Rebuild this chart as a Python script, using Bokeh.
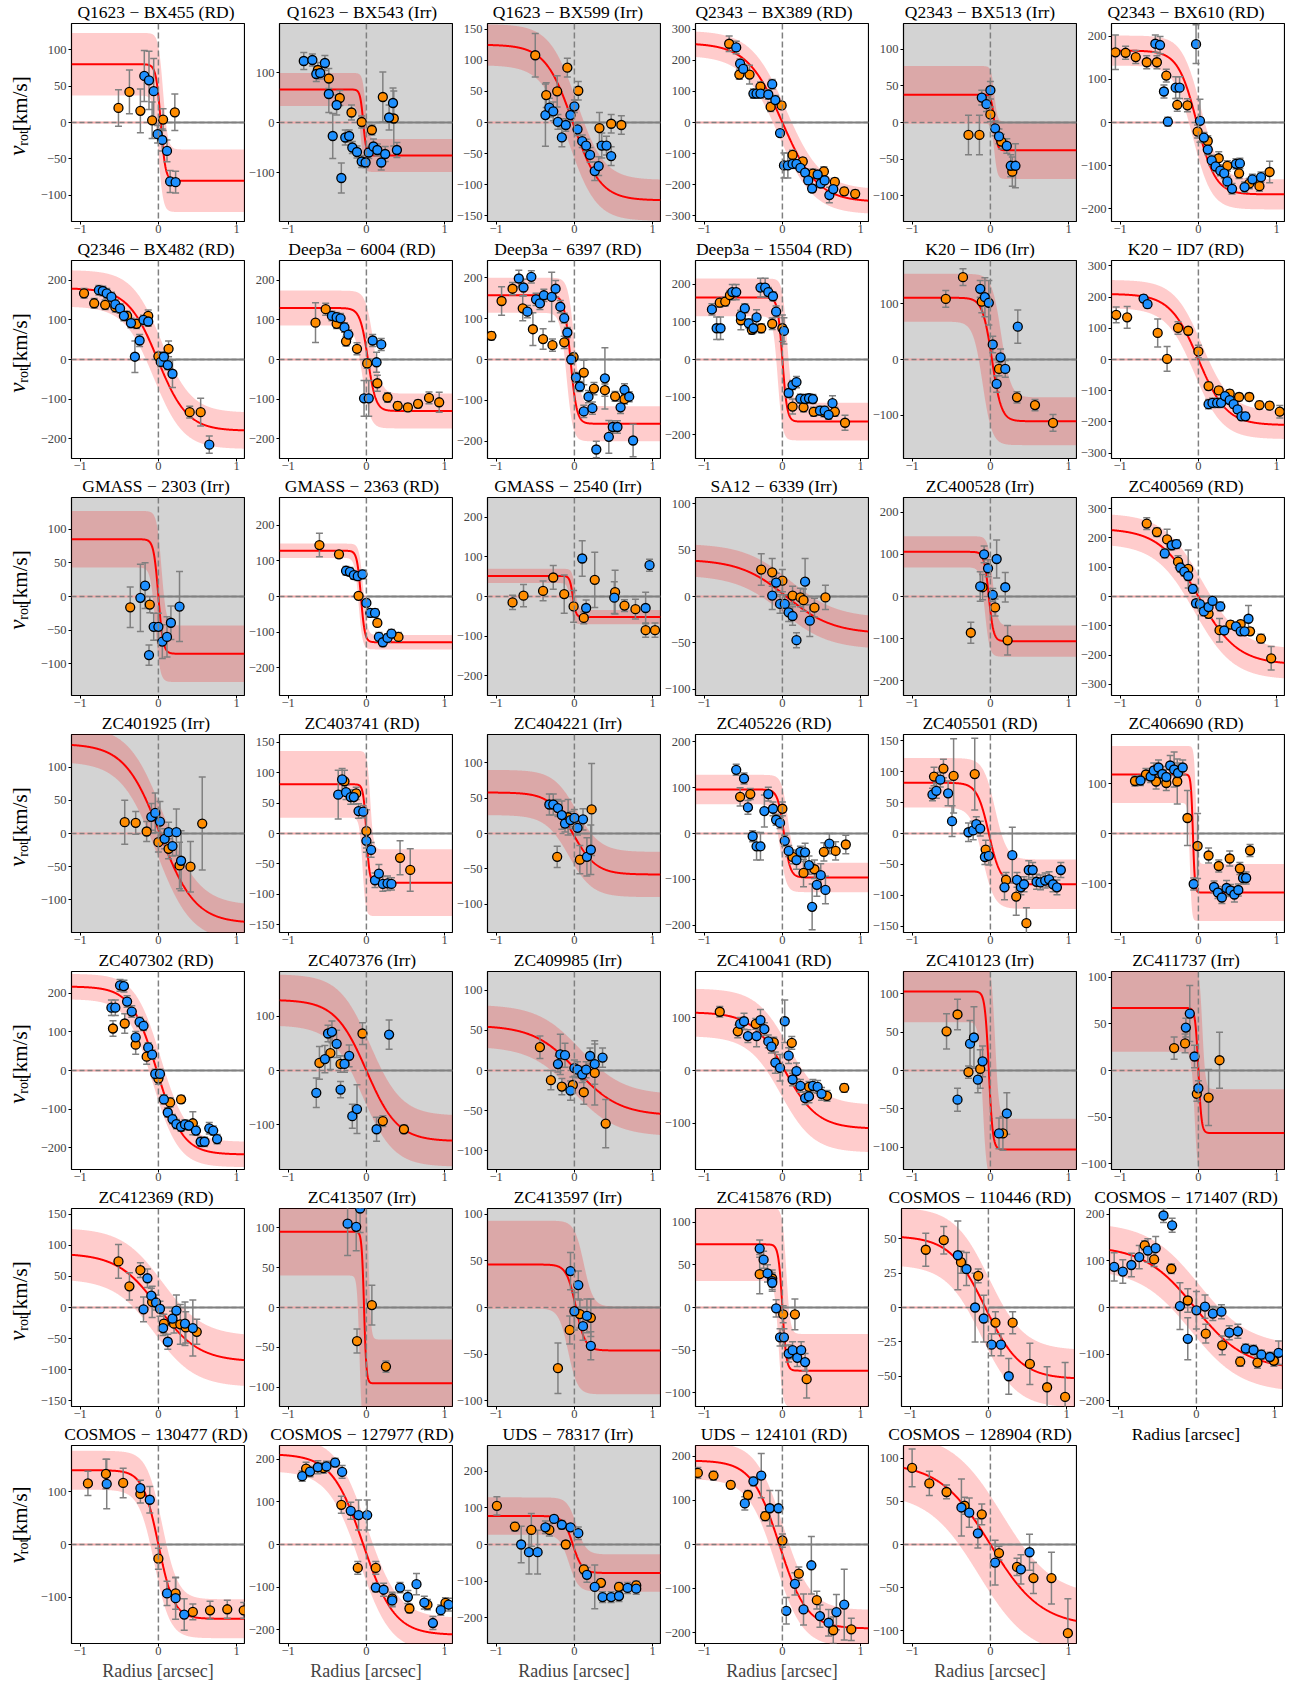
import numpy as np
from bokeh.plotting import figure
from bokeh.layouts import column, row
from bokeh.models import Range1d, FixedTicker, Span
from bokeh.core.properties import value
from bokeh.embed import file_html
from bokeh.resources import INLINE

# ---------------------------------------------------------------- data
TITLES = [
    "Q1623 − BX455 (RD)", "Q1623 − BX543 (Irr)", "Q1623 − BX599 (Irr)",
    "Q2343 − BX389 (RD)", "Q2343 − BX513 (Irr)", "Q2343 − BX610 (RD)",
    "Q2346 − BX482 (RD)", "Deep3a − 6004 (RD)", "Deep3a − 6397 (RD)",
    "Deep3a − 15504 (RD)", "K20 − ID6 (Irr)", "K20 − ID7 (RD)",
    "GMASS − 2303 (Irr)", "GMASS − 2363 (RD)", "GMASS − 2540 (Irr)",
    "SA12 − 6339 (Irr)", "ZC400528 (Irr)", "ZC400569 (RD)",
    "ZC401925 (Irr)", "ZC403741 (RD)", "ZC404221 (Irr)",
    "ZC405226 (RD)", "ZC405501 (RD)", "ZC406690 (RD)",
    "ZC407302 (RD)", "ZC407376 (Irr)", "ZC409985 (Irr)",
    "ZC410041 (RD)", "ZC410123 (Irr)", "ZC411737 (Irr)",
    "ZC412369 (RD)", "ZC413507 (Irr)", "ZC413597 (Irr)",
    "ZC415876 (RD)", "COSMOS − 110446 (RD)", "COSMOS − 171407 (RD)",
    "COSMOS − 130477 (RD)", "COSMOS − 127977 (RD)", "UDS − 78317 (Irr)",
    "UDS − 124101 (RD)", "COSMOS − 128904 (RD)",
]

# symmetric y-limit and tick step of each panel
YMAX = [136, 198, 159, 318, 135, 230, 250, 250, 242, 263, 178, 317,
        147, 277, 250, 106.5, 235, 338, 149, 163, 140, 216, 160, 198,
        257, 182, 123, 187, 129, 106, 159, 124, 106, 116, 72, 212,
        188, 232, 271, 224, 115]
YSTEP = [50, 100, 50, 100, 50, 100, 100, 100, 100, 100, 100, 100,
         50, 100, 100, 50, 100, 100, 50, 50, 50, 100, 50, 100,
         100, 100, 50, 100, 50, 50, 50, 50, 50, 50, 25, 100,
         100, 100, 100, 100, 50]

# best-fit model (plateau velocity, centre, turnover scale) and its uncertainty band
MODEL_V = [80, 66, 125, 255, 38, 167, 180, 130, 157, 165, 111, 210,
           85, 128, 52, 40, 106, 232, 135, 81, 58, 96, 82, 118,
           218, 130, 56, 110, 103, 67, 87, 95, 46, 74, 52, 132,
           141, 212, 78, 190, 95]
MODEL_X0 = [0.03, -0.04, -0.02, 0.0, 0.05, -0.02, -0.01, 0.02, -0.05, 0.0, 0.02, 0.0,
            0.0, -0.07, -0.02, 0.05, -0.02, 0.0, 0.02, 0.0, -0.02, 0.02, -0.02, -0.07,
            -0.02, 0.0, 0.03, 0.03, -0.02, 0.0, 0.0, -0.03, 0.02, 0.0, -0.04, -0.02,
            0.0, -0.04, -0.02, -0.04, 0.0]
MODEL_RT = [0.06, 0.04, 0.35, 0.45, 0.04, 0.24, 0.38, 0.10, 0.08, 0.06, 0.12, 0.36,
            0.06, 0.05, 0.04, 0.60, 0.06, 0.50, 0.45, 0.04, 0.30, 0.08, 0.15, 0.025,
            0.33, 0.40, 0.55, 0.42, 0.05, 0.04, 0.52, 0.03, 0.12, 0.05, 0.45, 0.65,
            0.20, 0.40, 0.12, 0.35, 0.65]
BAND_DV = [43, 33, 33, 40, 39, 35, 46, 44, 43, 50, 43, 45,
           42, 20, 18, 17, 37, 52, 27, 55, 32, 32, 40, 57,
           33, 47, 26, 45, 40, 47, 41, 55, 47, 43, 21, 50,
           37, 40, 51, 42, 35]
BAND_DX = [0.03, 0.03, 0.05, 0.05, 0.0, 0.05, 0.05, 0.07, 0.05, 0.06, 0.12, 0.05,
           0.04, 0.03, 0.03, 0.05, 0.05, 0.05, 0.05, 0.05, 0.05, 0.05, 0.08, 0.04,
           0.05, 0.05, 0.05, 0.05, 0.08, 0.05, 0.05, 0.06, 0.10, 0.05, 0.05, 0.05,
           0.05, 0.05, 0.05, 0.05, 0.15]

# measurements (radius, velocity, error) — orange and blue sets per panel
ORANGE = [
    [(-0.51,20,25),(-0.37,42,30),(-0.23,16,30),(-0.08,3,25),(0.06,4,15),(0.21,14,25)],
    [(-0.62,105,15),(-0.48,88,20),(-0.34,49,15),(-0.19,20,15),(-0.06,1,12),(0.07,-15,10),(0.21,51,50),(0.35,8,55)],
    [(-0.50,108,35),(-0.36,44,20),(-0.22,50,25),(-0.09,88,15),(0.05,51,15),(0.32,-9,25),(0.47,-2,15),(0.60,-4,15)],
    [(-0.68,253,25),(-0.55,154,15),(-0.42,154,30),(-0.28,115,15),(-0.15,50,15),(-0.01,55,12),(0.13,-104,15),(0.26,-125,12),(0.39,-164,15),(0.53,-157,15),(0.67,-191,12),(0.79,-221,12),(0.93,-229,12)],
    [(-0.28,-17,27),(-0.14,-17,27),(0.0,11,10),(0.14,-26,10),(0.28,-67,20)],
    [(-1.06,163,40),(-0.93,162,15),(-0.80,152,15),(-0.66,140,15),(-0.53,140,15),(-0.41,109,15),(-0.27,41,15),(-0.14,40,15),(-0.01,-21,15),(0.12,-43,12),(0.26,-83,15),(0.37,-101,12),(0.52,-118,12),(0.65,-142,12),(0.78,-148,12),(0.91,-115,25)],
    [(-0.95,167,12),(-0.82,142,12),(-0.68,138,12),(-0.55,132,12),(-0.40,110,12),(-0.28,90,12),(-0.13,110,15),(0.0,8,10),(0.13,27,20),(0.40,-133,15),(0.54,-133,35)],
    [(-0.65,93,50),(-0.52,127,15),(-0.38,90,12),(-0.26,46,12),(-0.12,27,15),(0.01,-10,12),(0.14,-60,20),(0.27,-96,12),(0.40,-117,10),(0.53,-121,10),(0.66,-112,10),(0.80,-97,15),(0.93,-108,25)],
    [(-1.06,58,10),(-0.93,143,35),(-0.79,173,15),(-0.66,125,30),(-0.53,74,40),(-0.40,50,25),(-0.28,35,15),(-0.13,42,15),(-0.01,6,10),(0.12,-32,30),(0.25,-71,15),(0.39,-75,15),(0.52,-90,12),(0.64,-97,12)],
    [(-0.80,151,12),(-0.73,154,12),(-0.67,171,12),(-0.53,104,25),(-0.39,79,12),(-0.27,83,12),(-0.13,95,15),(0.0,83,35),(0.13,-125,20),(0.27,-127,12),(0.40,-139,12),(0.53,-140,12),(0.67,-139,12),(0.80,-168,20)],
    [(-0.57,109,15),(-0.35,148,15),(-0.11,104,20),(0.11,-17,12),(0.34,-68,10),(0.57,-82,10),(0.80,-114,15)],
    [(-1.05,143,25),(-0.91,135,35),(-0.52,85,45),(-0.40,2,40),(-0.26,101,20),(-0.13,92,12),(0.0,26,20),(0.13,-85,12),(0.26,-99,12),(0.40,-109,12),(0.52,-120,12),(0.65,-120,12),(0.78,-146,12),(0.91,-148,12),(1.04,-167,20)],
    [(-0.36,-16,30),(-0.11,-12,12)],
    [(-0.60,144,33),(-0.35,118,10),(-0.10,2,8),(0.14,-74,10),(0.41,-113,12)],
    [(-0.79,-15,18),(-0.65,2,28),(-0.40,14,25),(-0.27,48,30),(-0.13,6,48),(-0.01,-25,40),(0.12,-54,15),(0.26,42,70),(0.52,11,55),(0.64,-23,15),(0.78,-32,25),(0.91,-85,18),(1.03,-85,18)],
    [(-0.27,29,17),(-0.13,26,15),(0.0,17,12),(0.13,1,10),(0.23,-1,10),(0.27,-4,12),(0.41,-12,10),(0.55,-1,13)],
    [(-0.25,-86,25),(-0.10,22,30),(0.06,-26,20),(0.22,-104,35)],
    [(-0.66,249,20),(-0.53,220,15),(-0.40,195,35),(-0.26,119,20),(-0.13,94,65),(0.13,-59,15),(0.27,-115,40),(0.41,-96,12),(0.54,-94,12),(0.66,-119,12),(0.80,-144,15),(0.93,-211,40)],
    [(-0.43,17,33),(-0.29,16,17),(-0.15,3,15),(0.0,-13,15),(0.13,-23,15),(0.27,-48,35),(0.41,-50,38),(0.56,15,70)],
    [(-0.28,86,18),(-0.13,66,10),(0.0,4,35),(0.43,-40,28),(0.56,-60,35)],
    [(-0.22,-33,15),(-0.08,23,25),(0.07,-37,20),(0.22,34,65)],
    [(-0.54,80,20),(-0.41,86,12),(0.0,54,15),(0.13,-51,15),(0.27,-86,30),(0.41,-78,20),(0.53,-40,20),(0.68,-38,20),(0.81,-24,20)],
    [(-0.72,92,15),(-0.60,105,15),(-0.47,93,60),(-0.20,96,58),(-0.06,-26,15),(0.20,-75,12),(0.33,-102,30),(0.46,-145,25)],
    [(-0.81,105,10),(-0.67,118,12),(-0.54,104,15),(-0.41,101,15),(-0.27,104,45),(-0.14,31,55),(-0.01,-25,65),(0.13,-44,15),(0.26,-65,12),(0.40,-50,15),(0.53,-70,12),(0.66,-34,12)],
    [(-0.58,109,20),(-0.43,122,25),(-0.29,67,25),(-0.15,36,20),(0.0,-21,15),(0.15,-83,12),(0.29,-75,10),(0.44,-137,30)],
    [(-0.60,14,30),(-0.46,32,30),(-0.33,12,15),(-0.05,68,20),(0.21,-93,10),(0.48,-108,8)],
    [(-0.44,29,14),(-0.30,-12,12),(-0.16,-20,10),(-0.02,-18,10),(0.12,-27,15),(0.26,-3,40),(0.40,-66,30)],
    [(-0.80,111,10),(-0.57,74,12),(-0.34,88,10),(-0.11,53,10),(0.12,52,12),(0.34,-31,10),(0.57,-48,10),(0.79,-33,8)],
    [(-0.56,51,23),(-0.42,73,20),(-0.28,-2,8),(-0.13,2,25),(0.16,-82,22)],
    [(-0.31,24,12),(-0.17,29,10),(-0.02,-25,8),(0.13,-29,30),(0.27,11,30)],
    [(-0.51,74,27),(-0.37,34,22),(-0.23,60,12),(-0.08,9,25),(0.07,-26,15),(0.20,-26,15),(0.28,-27,32),(0.35,-32,25),(0.49,-39,20)],
    [(-0.12,-42,15),(0.07,3,25),(0.25,-74,7)],
    [(-0.21,-65,27),(-0.06,-24,15),(0.07,-7,15),(0.21,-11,20)],
    [(-0.29,39,23),(-0.13,34,10),(0.01,-8,10),(0.16,-8,18),(0.31,-84,22)],
    [(-0.80,42,12),(-0.57,49,10),(-0.35,33,8),(-0.13,23,5),(0.09,-11,8),(0.31,-11,8),(0.53,-41,15),(0.75,-58,15),(0.98,-65,25)],
    [(-0.66,133,10),(-0.54,103,15),(-0.32,83,10),(-0.11,15,25),(0.12,-56,20),(0.33,-81,20),(0.56,-116,10),(0.78,-118,12),(0.99,-114,12)],
    [(-0.90,116,23),(-0.67,134,28),(-0.45,117,28),(-0.23,96,17),(0.0,-27,20),(0.22,-93,30),(0.44,-128,15),(0.66,-125,17),(0.88,-123,17),(1.09,-125,15)],
    [(-0.77,178,15),(-0.55,179,12),(-0.32,93,20),(-0.11,-55,15),(0.12,-55,15),(0.33,-127,15),(0.55,-150,10),(0.78,-141,12),(1.01,-137,12)],
    [(-0.99,106,25),(-0.76,49,12),(-0.55,40,45),(-0.32,40,17),(-0.11,0,10),(0.12,-68,12),(0.34,-105,10),(0.57,-116,12),(0.79,-112,12)],
    [(-1.08,162,12),(-0.88,156,10),(-0.66,135,8),(-0.44,112,10),(-0.22,64,10),(0.0,9,15),(0.21,-66,15),(0.44,-126,20),(0.65,-194,30),(0.88,-192,25)],
    [(-1.0,89,22),(-0.78,71,14),(-0.56,61,8),(-0.33,45,10),(-0.11,35,12),(0.11,-10,8),(0.34,-26,10),(0.55,-39,18),(0.78,-39,30),(0.99,-103,40)],
]
BLUE = [
    [(-0.18,64,35),(-0.12,58,40),(-0.06,43,45),(-0.01,-16,12),(0.05,-24,15),(0.11,-39,15),(0.15,-81,15),(0.22,-82,15)],
    [(-0.80,123,17),(-0.69,125,12),(-0.64,97,15),(-0.59,99,12),(-0.53,119,15),(-0.48,57,37),(-0.43,-27,45),(-0.38,35,20),(-0.32,-111,30),(-0.27,-30,15),(-0.22,-27,12),(-0.18,-50,12),(-0.12,-59,12),(-0.06,-78,12),(-0.01,-80,10),(0.03,-60,12),(0.09,-48,15),(0.14,-55,12),(0.19,-80,15),(0.24,-63,15),(0.29,10,25),(0.34,39,30),(0.39,-55,15)],
    [(-0.37,12,50),(-0.32,24,15),(-0.27,18,15),(-0.21,1,12),(-0.16,-24,15),(-0.11,-4,10),(-0.05,12,10),(0.0,26,10),(0.04,-11,10),(0.10,-30,10),(0.15,-37,10),(0.20,-52,12),(0.26,-78,15),(0.31,-70,15),(0.35,-37,20),(0.41,-37,15),(0.47,-54,15)],
    [(-0.59,241,20),(-0.54,189,15),(-0.50,172,15),(-0.37,93,15),(-0.33,93,15),(-0.28,93,15),(-0.18,90,15),(-0.13,123,15),(-0.09,72,15),(-0.03,-34,10),(0.02,-138,40),(0.07,-138,40),(0.13,-133,15),(0.18,-133,12),(0.23,-146,12),(0.29,-161,12),(0.33,-186,12),(0.38,-212,12),(0.45,-167,12),(0.49,-196,12),(0.54,-186,12),(0.60,-233,25),(0.65,-214,12)],
    [(-0.11,34,10),(-0.05,25,10),(0.0,44,12),(0.06,-8,10),(0.11,-19,10),(0.21,-32,10),(0.26,-59,15),(0.32,-59,30)],
    [(-0.55,183,20),(-0.49,180,20),(-0.44,72,15),(-0.39,2,10),(-0.29,81,25),(-0.24,81,25),(-0.03,182,45),(0.02,4,50),(0.07,-35,12),(0.12,-63,12),(0.17,-88,12),(0.22,-102,12),(0.28,-112,12),(0.33,-118,12),(0.37,-137,12),(0.43,-154,12),(0.48,-96,12),(0.53,-95,12),(0.59,-150,12),(0.69,-132,12),(0.80,-127,12)],
    [(-0.76,175,12),(-0.71,173,12),(-0.66,167,12),(-0.60,158,12),(-0.55,139,12),(-0.49,129,12),(-0.44,110,12),(-0.35,92,12),(-0.30,7,40),(-0.24,48,15),(-0.19,100,12),(-0.13,96,12),(0.03,-6,12),(0.07,7,12),(0.12,-14,12),(0.18,-36,35),(0.65,-215,22)],
    [(-0.44,110,12),(-0.38,107,12),(-0.33,104,12),(-0.28,81,12),(-0.23,63,12),(-0.03,-98,45),(0.03,-98,45),(0.08,48,15),(0.13,-7,25),(0.19,38,15)],
    [(-0.71,198,20),(-0.65,176,20),(-0.60,117,15),(-0.55,202,15),(-0.49,147,15),(-0.44,137,15),(-0.39,157,15),(-0.29,153,60),(-0.24,173,20),(-0.18,129,15),(-0.13,101,12),(-0.09,66,12),(-0.04,0,10),(0.02,-44,12),(0.07,-66,12),(0.12,-127,15),(0.18,-91,15),(0.23,-119,15),(0.28,-220,20),(0.39,-46,75),(0.44,-189,40),(0.49,-165,15),(0.55,-165,15),(0.59,-117,15),(0.64,-74,15),(0.70,-91,12),(0.75,-198,40)],
    [(-0.90,133,15),(-0.84,83,30),(-0.79,83,30),(-0.64,179,20),(-0.59,179,20),(-0.53,116,15),(-0.48,136,12),(-0.43,96,12),(-0.37,83,12),(-0.33,112,20),(-0.28,191,25),(-0.22,191,25),(-0.18,179,12),(-0.12,168,12),(-0.08,127,15),(0.02,76,35),(0.08,-89,12),(0.13,-68,12),(0.18,-60,15),(0.23,-104,12),(0.29,-105,12),(0.34,-103,12),(0.39,-105,12),(0.48,-136,12),(0.54,-136,12),(0.59,-147,12),(0.64,-116,20)],
    [(-0.13,127,15),(-0.07,112,35),(-0.02,102,40),(0.03,27,15),(0.08,-44,15),(0.13,4,15),(0.19,-17,15),(0.35,59,30)],
    [(-0.70,195,12),(-0.65,177,12),(0.13,-143,15),(0.18,-139,15),(0.24,-139,15),(0.29,-139,15),(0.34,-117,12),(0.40,-130,12),(0.45,-143,12),(0.50,-160,12),(0.55,-182,12),(0.60,-182,12)],
    [(-0.23,-2,50),(-0.17,16,34),(-0.12,-87,15),(-0.06,-45,20),(0.0,-45,20),(0.05,-67,25),(0.11,-60,30),(0.16,-39,25),(0.27,-15,52)],
    [(-0.26,72,12),(-0.21,69,12),(-0.16,60,12),(-0.11,57,12),(-0.05,62,12),(0.0,-18,10),(0.05,-46,12),(0.11,-46,12),(0.16,-113,12),(0.21,-128,12),(0.27,-116,12),(0.32,-104,12)],
    [(0.10,96,45),(0.15,-29,20),(0.51,-3,40),(0.91,-29,40),(0.96,79,15)],
    [(-0.13,1,15),(-0.08,15,10),(-0.03,-8,10),(0.03,-8,10),(0.08,-17,10),(0.13,-21,10),(0.18,-47,8),(0.29,16,25),(0.35,-26,17)],
    [(-0.13,24,35),(-0.08,100,20),(-0.03,67,20),(0.03,4,15),(0.08,89,45),(0.19,22,35)],
    [(-0.43,147,15),(-0.34,175,15),(-0.28,179,15),(-0.23,99,15),(-0.18,85,15),(-0.13,70,15),(-0.07,26,15),(-0.03,-23,12),(0.02,-26,12),(0.07,-51,15),(0.13,-36,15),(0.18,-15,15),(0.28,-34,15),(0.33,-116,12),(0.48,-102,12),(0.54,-119,12),(0.59,-119,12),(0.64,-76,45)],
    [(-0.09,25,20),(-0.04,31,30),(0.02,18,30),(0.08,-8,15),(0.13,2,15),(0.18,-19,15),(0.23,2,35),(0.29,-41,45)],
    [(-0.36,64,40),(-0.31,89,18),(-0.26,68,12),(-0.20,60,12),(-0.16,60,12),(-0.10,37,12),(-0.04,36,10),(0.0,-12,12),(0.06,-27,12),(0.11,-77,12),(0.16,-66,15),(0.21,-83,12),(0.27,-82,12),(0.32,-83,10)],
    [(-0.32,41,15),(-0.27,41,15),(-0.21,36,12),(-0.16,26,20),(-0.12,14,12),(-0.05,19,12),(0.0,22,12),(0.04,8,10),(0.11,20,15),(0.16,-33,27),(0.21,-23,35)],
    [(-0.59,139,12),(-0.49,120,12),(-0.44,57,15),(-0.38,-6,12),(-0.33,-28,30),(-0.28,-28,30),(-0.23,49,35),(-0.18,86,15),(-0.12,54,15),(-0.08,30,12),(-0.03,23,12),(0.03,-16,12),(0.08,-38,12),(0.18,-58,20),(0.23,-40,12),(0.29,-41,20),(0.34,-69,20),(0.38,-160,50),(0.44,-112,25),(0.49,-91,25),(0.55,-123,30),(0.60,-22,22)],
    [(-0.74,63,10),(-0.69,69,12),(-0.64,87,12),(-0.54,65,20),(-0.49,20,25),(-0.28,2,15),(-0.22,5,15),(-0.18,15,12),(-0.13,8,12),(-0.07,-38,12),(-0.02,-36,15),(0.18,-87,20),(0.28,-35,45),(0.34,-75,12),(0.39,-87,12),(0.43,-82,12),(0.49,-59,15),(0.54,-59,12),(0.59,-78,12),(0.64,-79,12),(0.70,-76,12),(0.75,-74,12),(0.80,-82,12),(0.85,-87,12),(0.90,-59,12)],
    [(-0.74,106,10),(-0.61,114,12),(-0.57,126,15),(-0.51,132,15),(-0.46,119,15),(-0.41,113,15),(-0.36,136,20),(-0.31,128,35),(-0.26,121,20),(-0.20,132,15),(-0.06,-101,12),(0.20,-107,12),(0.25,-118,12),(0.30,-128,12),(0.36,-109,15),(0.41,-114,12),(0.46,-122,15),(0.51,-113,12),(0.57,-89,12),(0.61,-89,12)],
    [(-0.60,163,20),(-0.55,163,20),(-0.49,221,15),(-0.44,219,15),(-0.40,179,15),(-0.34,153,15),(-0.29,86,15),(-0.24,126,12),(-0.19,116,12),(-0.13,60,12),(-0.08,41,12),(-0.04,-9,12),(0.02,-9,12),(0.07,-75,12),(0.12,-109,12),(0.18,-126,12),(0.23,-139,12),(0.29,-146,12),(0.34,-140,12),(0.39,-143,12),(0.48,-156,12),(0.54,-185,12),(0.59,-185,12),(0.65,-150,15),(0.70,-156,12),(0.75,-178,12)],
    [(-0.64,-41,27),(-0.53,21,25),(-0.49,68,15),(-0.44,71,20),(-0.38,49,25),(-0.33,-35,15),(-0.28,12,15),(-0.22,27,20),(-0.18,-84,22),(-0.12,-71,45),(0.13,-108,22),(0.29,66,27)],
    [(-0.21,8,10),(-0.18,20,25),(-0.12,19,15),(-0.05,-25,12),(0.0,3,10),(0.04,1,10),(0.10,-5,10),(0.15,1,10),(0.20,18,10),(0.26,8,25),(0.36,16,12)],
    [(-0.54,88,12),(-0.49,93,15),(-0.44,65,12),(-0.33,65,20),(-0.28,95,20),(-0.23,78,12),(-0.18,55,12),(-0.14,45,12),(-0.09,15,20),(-0.03,5,25),(0.03,93,40),(0.08,28,15),(0.13,-17,12),(0.18,-1,15),(0.23,-29,12),(0.29,-52,12),(0.34,-49,12),(0.39,-29,12),(0.45,-31,12),(0.50,-44,12)],
    [(-0.42,-38,15),(-0.26,35,30),(-0.21,43,40),(-0.16,-12,17),(-0.10,12,20),(0.11,-82,20),(0.21,-56,27)],
    [(-0.16,46,10),(-0.11,61,30),(-0.05,15,12),(0.0,-19,8)],
    [(-0.19,-3,20),(-0.14,47,15),(-0.09,19,12),(-0.03,8,12),(0.02,-2,12),(0.06,-33,12),(0.12,-55,12),(0.18,-18,12),(0.23,-5,25),(0.34,-26,35),(0.44,-33,45)],
    [(-0.24,105,40),(-0.13,101,30),(-0.08,124,30)],
    [(-0.05,39,20),(0.0,-4,20),(0.05,24,15),(0.11,-20,15),(0.16,-9,18),(0.21,-41,15)],
    [(-0.29,69,10),(-0.24,56,10),(-0.19,40,10),(-0.13,31,10),(-0.13,29,10),(-0.08,-1,10),(-0.03,-35,10),(0.02,-35,10),(0.08,-54,10),(0.13,-50,10),(0.19,-59,10),(0.24,-50,10),(0.29,-64,10)],
    [(-0.39,38,25),(-0.28,28,12),(-0.17,0,25),(-0.06,-8,17),(0.04,-27,8),(0.16,-27,8),(0.26,-50,13)],
    [(-1.05,87,30),(-0.94,77,25),(-0.83,91,25),(-0.73,108,25),(-0.62,122,25),(-0.52,127,25),(-0.42,197,15),(-0.31,176,15),(-0.21,3,50),(-0.11,-67,45),(0.0,-6,40),(0.11,2,25),(0.21,-13,15),(0.32,-9,15),(0.42,-54,15),(0.53,-51,15),(0.63,-88,10),(0.73,-91,10),(0.83,-101,10),(0.94,-106,10),(1.05,-97,25)],
    [(-0.66,115,47),(-0.23,107,15),(-0.11,85,25),(0.11,-93,23),(0.22,-102,40),(0.33,-133,30)],
    [(-0.82,160,12),(-0.72,171,12),(-0.62,181,15),(-0.51,183,12),(-0.40,192,10),(-0.31,170,15),(-0.20,79,20),(-0.10,69,35),(0.01,69,35),(0.12,-101,10),(0.22,-106,15),(0.33,-131,15),(0.43,-101,12),(0.53,-123,15),(0.64,-93,25),(0.74,-136,15),(0.85,-184,15),(0.95,-154,12),(1.05,-141,15)],
    [(-0.68,0,50),(-0.58,-21,60),(-0.47,-21,60),(-0.37,47,17),(-0.26,70,10),(-0.16,54,12),(-0.05,47,10),(0.05,31,17),(0.16,-83,20),(0.26,-116,60),(0.36,-144,15),(0.47,-144,15),(0.57,-141,15),(0.68,-119,15),(0.79,-121,15)],
    [(-0.48,93,15),(-0.37,143,10),(-0.27,156,50),(-0.16,82,40),(-0.05,82,40),(0.05,-150,30),(0.16,-89,25),(0.27,-147,35),(0.37,-47,65),(0.48,-162,25),(0.59,-177,30),(0.69,-153,40),(0.79,-136,80)],
    [(-0.37,43,33),(-0.27,37,17),(-0.16,13,17),(0.06,-21,26),(0.39,-29,17),(0.50,-9,21)],
]

XTICKS = [-1, 0, 1]
XLABEL = "Radius [arcsec]"

# ---------------------------------------------------------------- style / layout
SERIF = "Liberation Serif"
ORANGE_C, BLUE_C = "#ff8c00", "#1e90ff"
IRR_BG = "#d3d3d3"
PAGE_W = 1302
FRAME_W, FRAME_H = 173, 198
LABEL_W = 37
BL, BR, BT = 32, 1, 2
BB, BB_LAST = 17, 44
TITLE_H0, TITLE_H = 21, 20
TITLE_MID = 10
PITCH = BL + FRAME_W + BR
XLIM = (-1.11, 1.1)
GRID = np.linspace(XLIM[0], XLIM[1], 500)


def fmt(v):
    v = int(v)
    return ("−" + str(abs(v))) if v < 0 else str(v)


def style_axes(p):
    p.xgrid.grid_line_color = None
    p.ygrid.grid_line_color = None
    for ax in (p.xaxis[0], p.yaxis[0]):
        ax.major_label_text_font = SERIF
        ax.major_label_text_font_size = "12.5px"
        ax.major_tick_in = 0
        ax.major_tick_out = 3
        ax.major_tick_line_color = "black"
        ax.minor_tick_line_color = None
        ax.axis_line_color = None
    p.xaxis[0].major_label_standoff = 0
    p.yaxis[0].major_label_standoff = 2


def draw_errors(p, pts):
    if not pts:
        return None
    xs = [a for a, b, e in pts]
    ys = [b for a, b, e in pts]
    es = [e for a, b, e in pts]
    lo = [b - e for b, e in zip(ys, es)]
    hi = [b + e for b, e in zip(ys, es)]
    p.segment(x0=xs, y0=lo, x1=xs, y1=hi, line_color="gray", line_width=1.5)
    p.scatter(xs + xs, lo + hi, marker="dash", size=7, line_color="gray", line_width=1.5)
    return xs, ys


def panel(i, last):
    ym = YMAX[i]
    st = YSTEP[i]
    p = figure(frame_width=FRAME_W, frame_height=FRAME_H,
               x_range=Range1d(*XLIM), y_range=Range1d(-ym, ym),
               output_backend="svg", toolbar_location=None,
               min_border_left=BL, min_border_right=BR, min_border_top=BT,
               min_border_bottom=BB_LAST if last else BB)
    p.background_fill_color = IRR_BG if "(Irr)" in TITLES[i] else "white"
    p.border_fill_color = "white"
    p.outline_line_color = "black"
    p.outline_line_width = 1.2
    style_axes(p)
    n = int(ym // st)
    yt = [k * st for k in range(-n, n + 1)]
    p.yaxis[0].ticker = FixedTicker(ticks=yt)
    p.yaxis[0].major_label_overrides = {t: fmt(t) for t in yt}
    p.xaxis[0].ticker = FixedTicker(ticks=XTICKS)
    p.xaxis[0].major_label_overrides = {t: fmt(t) for t in XTICKS}
    if last:
        p.xaxis[0].axis_label = XLABEL
        p.xaxis[0].axis_label_text_font = SERIF
        p.xaxis[0].axis_label_text_font_size = "18px"
        p.xaxis[0].axis_label_text_font_style = "normal"
        p.xaxis[0].axis_label_standoff = 3

    V, x0, rt, dv, dx = MODEL_V[i], MODEL_X0[i], MODEL_RT[i], BAND_DV[i], BAND_DX[i]
    model = -V * np.tanh((GRID - x0) / rt)
    upper = -V * np.tanh((GRID - x0 - dx) / rt) + dv
    lower = -V * np.tanh((GRID - x0 + dx) / rt) - dv
    p.varea(x=GRID, y1=lower, y2=upper, fill_color="red", fill_alpha=0.2)

    # zero lines
    p.segment(x0=[XLIM[0]], y0=[0], x1=[0], y1=[0], line_color="#f2a8a8", line_width=2)
    p.segment(x0=[0], y0=[0], x1=[XLIM[1]], y1=[0], line_color="gray", line_width=2)
    p.segment(x0=[XLIM[0]], y0=[0], x1=[XLIM[1]], y1=[0], line_color="gray",
              line_width=1.6, line_dash="5 3")
    p.add_layout(Span(location=0, dimension="height", line_color="gray",
                      line_width=1.5, line_dash="6 3"))

    p.line(GRID, model, line_color="red", line_width=2)

    o = draw_errors(p, ORANGE[i])
    b = draw_errors(p, BLUE[i])
    if o:
        p.scatter(o[0], o[1], marker="circle", size=9, fill_color=ORANGE_C,
                  line_color="black", line_width=1.3)
    if b:
        p.scatter(b[0], b[1], marker="circle", size=9, fill_color=BLUE_C,
                  line_color="black", line_width=1.3)
    return p


def blank(width, height):
    f = figure(width=width, height=height, x_range=Range1d(0, width),
               y_range=Range1d(0, height), output_backend="svg",
               toolbar_location=None, min_border=0,
               x_axis_type=None, y_axis_type=None)
    f.outline_line_color = None
    f.background_fill_color = "white"
    f.border_fill_color = "white"
    return f


def title_fig(idxs, h, radius_col=None):
    f = blank(PAGE_W, h)
    xs = [LABEL_W + c * PITCH + BL + FRAME_W / 2 for c in range(len(idxs))]
    f.text(x=xs, y=[TITLE_MID] * len(xs), text=[TITLES[i] for i in idxs],
           text_font=value(SERIF), text_font_size="17.5px",
           text_align="center", text_baseline="middle", text_color="black")
    if radius_col is not None:
        f.text(x=[LABEL_W + radius_col * PITCH + BL + FRAME_W / 2], y=[TITLE_MID],
               text=[XLABEL], text_font=value(SERIF), text_font_size="17.5px",
               text_align="center", text_baseline="middle", text_color="black")
    return f


def ylabel_fig(bb):
    h = BT + FRAME_H + bb
    f = blank(LABEL_W, h)
    cy = bb + FRAME_H / 2
    a = np.pi / 2
    f.text(x=[17], y=[cy - 44], text=["v"], angle=a, text_font=value(SERIF),
           text_font_style="italic", text_font_size="23px",
           text_align="left", text_baseline="middle")
    f.text(x=[23], y=[cy - 33], text=["rot"], angle=a, text_font=value(SERIF),
           text_font_size="14px", text_align="left", text_baseline="middle")
    f.text(x=[19], y=[cy - 17], text=["[km/s]"], angle=a, text_font=value(SERIF),
           text_font_size="21px", text_align="left", text_baseline="middle")
    return f


blocks = []
n_panels = len(TITLES)
n_rows = (n_panels + 5) // 6
for r in range(n_rows):
    idxs = list(range(6 * r, min(6 * r + 6, n_panels)))
    last = (r == n_rows - 1)
    h_title = TITLE_H0 if r == 0 else TITLE_H
    blocks.append(title_fig(idxs, h_title, radius_col=5 if last else None))
    bb = BB_LAST if last else BB
    figs = [ylabel_fig(bb)] + [panel(i, last) for i in idxs]
    blocks.append(row(*figs))

p = column(*blocks)
open("out.html", "w").write(file_html(p, INLINE))
